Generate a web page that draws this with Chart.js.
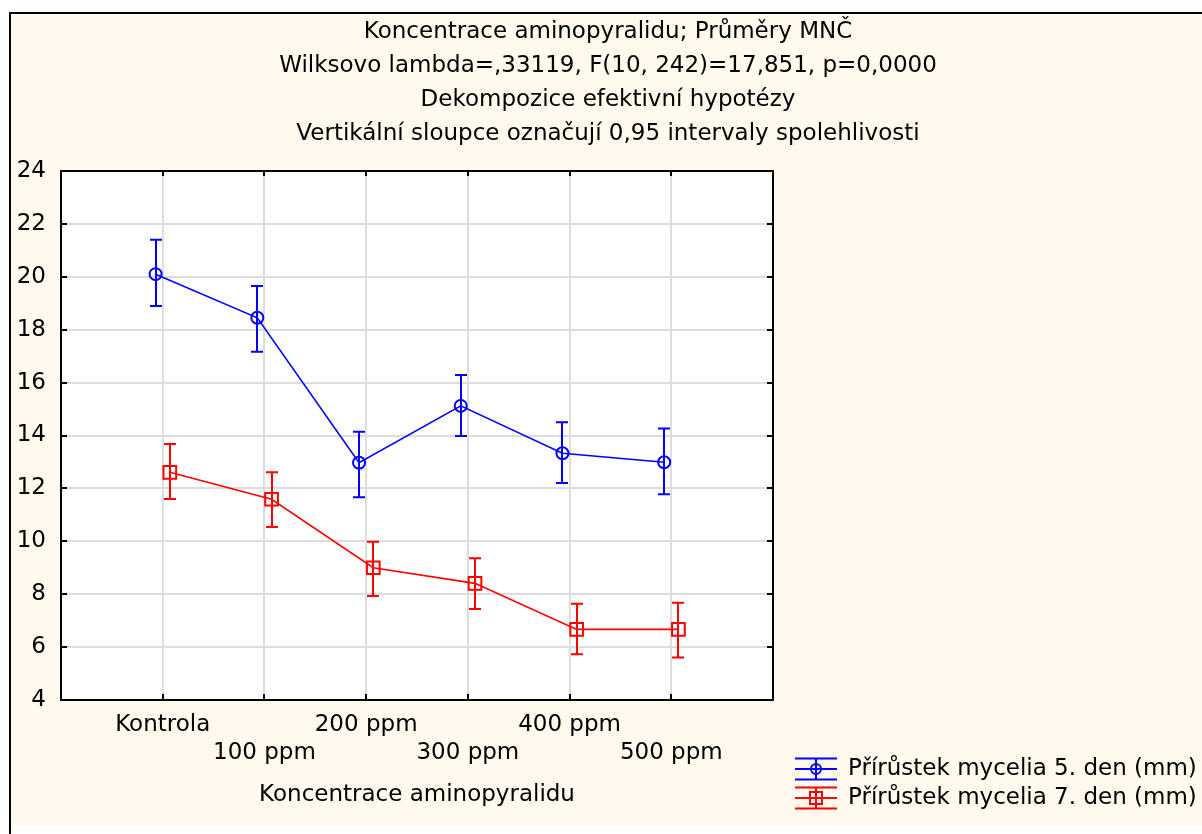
<!DOCTYPE html>
<html>
<head>
<meta charset="utf-8">
<script src="https://cdn.jsdelivr.net/npm/chart.js@4"></script>
<style>
  body { margin: 0; background: #ffffff; }
  #wrap { width: 1202px; height: 834px; }
</style>
</head>
<body>
<div id="wrap"><canvas id="chart" width="1202" height="834"></canvas></div>
<script>
// data
const categories = ["Kontrola", "100 ppm", "200 ppm", "300 ppm", "400 ppm", "500 ppm"];
const den5Mean = [20.1, 18.45, 12.97, 15.12, 13.33, 12.99];
const den5Low = [18.9, 17.17, 11.67, 13.98, 12.2, 11.78];
const den5High = [21.4, 19.65, 14.14, 16.29, 14.5, 14.26];
const den7Mean = [12.61, 11.59, 9.0, 8.41, 6.67, 6.67];
const den7Low = [11.6, 10.54, 7.93, 7.44, 5.73, 5.61];
const den7High = [13.68, 12.61, 9.98, 9.36, 7.64, 7.68];
const yMin = 4, yMax = 24, yStep = 2;
const titleLines = [
  "Koncentrace aminopyralidu; Průměry MNČ",
  "Wilksovo lambda=,33119, F(10, 242)=17,851, p=0,0000",
  "Dekompozice efektivní hypotézy",
  "Vertikální sloupce označují 0,95 intervaly spolehlivosti",
];
const xTitle = "Koncentrace aminopyralidu";
const seriesNames = ["Přírůstek mycelia 5. den (mm)", "Přírůstek mycelia 7. den (mm)"];

const FONT = "'DejaVu Sans', sans-serif";
const shift = 0.07; // the two series sit a little apart on each category

function points(values, off) {
  return values.map((v, i) => ({ x: i + 1 + off, y: v }));
}

const series = [
  { mean: den5Mean, low: den5Low, high: den5High, color: "#0000ff", style: "circle", radius: 6, off: -shift },
  { mean: den7Mean, low: den7Low, high: den7High, color: "#ff0000", style: "rect", radius: 9, off: shift },
];

// background, frame, titles, plot box, inner ticks and legend
const framePlugin = {
  id: "frame",
  beforeDraw(chart) {
    const ctx = chart.ctx;
    const a = chart.chartArea;
    ctx.save();
    ctx.fillStyle = "#ffffff";
    ctx.fillRect(0, 0, chart.width, chart.height);
    ctx.fillStyle = "#fff9ee";
    ctx.fillRect(9, 12, chart.width - 9, 814);
    ctx.fillStyle = "#ffffff";
    ctx.fillRect(a.left, a.top, a.right - a.left, a.bottom - a.top);
    ctx.strokeStyle = "#000000";
    ctx.lineWidth = 2;
    ctx.beginPath();
    ctx.moveTo(10, chart.height);
    ctx.lineTo(10, 13);
    ctx.lineTo(chart.width, 13);
    ctx.stroke();

    ctx.fillStyle = "#000000";
    ctx.font = "23px " + FONT;
    ctx.textAlign = "center";
    ctx.textBaseline = "middle";
    titleLines.forEach((t, i) => {
      ctx.fillText(t, 608, 32 + i * 34);
    });
    ctx.restore();
  },
  afterDraw(chart) {
    const ctx = chart.ctx;
    const a = chart.chartArea;
    const xs = chart.scales.x, ys = chart.scales.y;
    ctx.save();
    ctx.strokeStyle = "#000000";
    ctx.lineWidth = 2;
    ctx.strokeRect(a.left, a.top, a.right - a.left, a.bottom - a.top);
    ctx.beginPath();
    categories.forEach((c, i) => {
      const px = Math.round(xs.getPixelForValue(i + 1));
      ctx.moveTo(px, a.top); ctx.lineTo(px, a.top + 5);
      ctx.moveTo(px, a.bottom); ctx.lineTo(px, a.bottom - 6);
    });
    for (let v = yMin + yStep; v < yMax; v += yStep) {
      const py = Math.round(ys.getPixelForValue(v));
      ctx.moveTo(a.left, py); ctx.lineTo(a.left + 6, py);
      ctx.moveTo(a.right, py); ctx.lineTo(a.right - 6, py);
    }
    ctx.stroke();

    // legend
    ctx.font = "23px " + FONT;
    ctx.textBaseline = "middle";
    ctx.textAlign = "left";
    series.forEach((s, i) => {
      const cy = 769 + i * 29;
      const x0 = 795, x1 = 837, xm = 816;
      ctx.strokeStyle = s.color;
      ctx.lineWidth = 2;
      ctx.beginPath();
      ctx.moveTo(x0, cy - 10.5); ctx.lineTo(x1, cy - 10.5);
      ctx.moveTo(x0, cy); ctx.lineTo(x1, cy);
      ctx.moveTo(x0, cy + 10.5); ctx.lineTo(x1, cy + 10.5);
      ctx.moveTo(xm, cy - 10.5); ctx.lineTo(xm, cy + 10.5);
      ctx.stroke();
      ctx.beginPath();
      if (s.style === "circle") {
        ctx.arc(xm, cy, 5, 0, Math.PI * 2);
      } else {
        ctx.rect(xm - 6, cy - 6, 12, 12);
      }
      ctx.stroke();
      ctx.fillStyle = "#000000";
      ctx.fillText(seriesNames[i], 848, cy);
    });
    ctx.restore();
  },
};

// confidence interval bars
const errorBarPlugin = {
  id: "errorBars",
  afterDatasetsDraw(chart) {
    const ctx = chart.ctx;
    const xs = chart.scales.x, ys = chart.scales.y;
    ctx.save();
    ctx.lineWidth = 2;
    series.forEach((s) => {
      ctx.strokeStyle = s.color;
      ctx.beginPath();
      s.mean.forEach((m, i) => {
        const px = Math.round(xs.getPixelForValue(i + 1 + s.off));
        const top = ys.getPixelForValue(s.high[i]);
        const bot = ys.getPixelForValue(s.low[i]);
        ctx.moveTo(px, top); ctx.lineTo(px, bot);
        ctx.moveTo(px - 6, top); ctx.lineTo(px + 6, top);
        ctx.moveTo(px - 6, bot); ctx.lineTo(px + 6, bot);
      });
      ctx.stroke();
    });
    ctx.restore();
  },
};

const chart = new Chart(document.getElementById("chart"), {
  type: "line",
  data: {
    datasets: series.map((s, i) => ({
      label: seriesNames[i],
      data: points(s.mean, s.off),
      borderColor: s.color,
      borderWidth: 1.6,
      backgroundColor: "transparent",
      pointStyle: s.style,
      pointRadius: s.radius,
      pointBorderWidth: 2,
      pointBorderColor: s.color,
      pointBackgroundColor: "transparent",
      tension: 0,
    })),
  },
  options: {
    responsive: false,
    animation: false,
    events: [],
    layout: { padding: { left: 0, top: 171, right: 429, bottom: 0 } },
    plugins: {
      legend: { display: false },
      tooltip: { enabled: false },
      title: { display: false },
    },
    scales: {
      x: {
        type: "linear",
        min: 0,
        max: 7,
        afterFit(scale) { scale.height = 134; },
        afterBuildTicks(scale) {
          scale.ticks = categories.map((c, i) => ({ value: i + 1 }));
        },
        ticks: {
          autoSkip: false,
          maxRotation: 0,
          padding: 11,
          color: "#000000",
          font: { family: FONT, size: 23, lineHeight: "28px" },
          callback: function (value) {
            const i = Math.round(value) - 1;
            return i % 2 == 0 ? [categories[i], ""] : ["", categories[i]];
          },
        },
        grid: { color: "#dddddd", lineWidth: 2, drawTicks: false },
        border: { display: false },
        title: {
          display: true,
          text: xTitle,
          color: "#000000",
          font: { family: FONT, size: 23, lineHeight: 1.2 },
          padding: { top: 0, bottom: 25 },
        },
      },
      y: {
        min: yMin,
        max: yMax,
        afterFit(scale) { scale.width = 61; },
        ticks: {
          stepSize: yStep,
          padding: 15,
          color: "#000000",
          font: { family: FONT, size: 23 },
        },
        grid: { color: "#dddddd", lineWidth: 2, drawTicks: false },
        border: { display: false },
      },
    },
  },
  plugins: [framePlugin, errorBarPlugin],
});
</script>
</body>
</html>
